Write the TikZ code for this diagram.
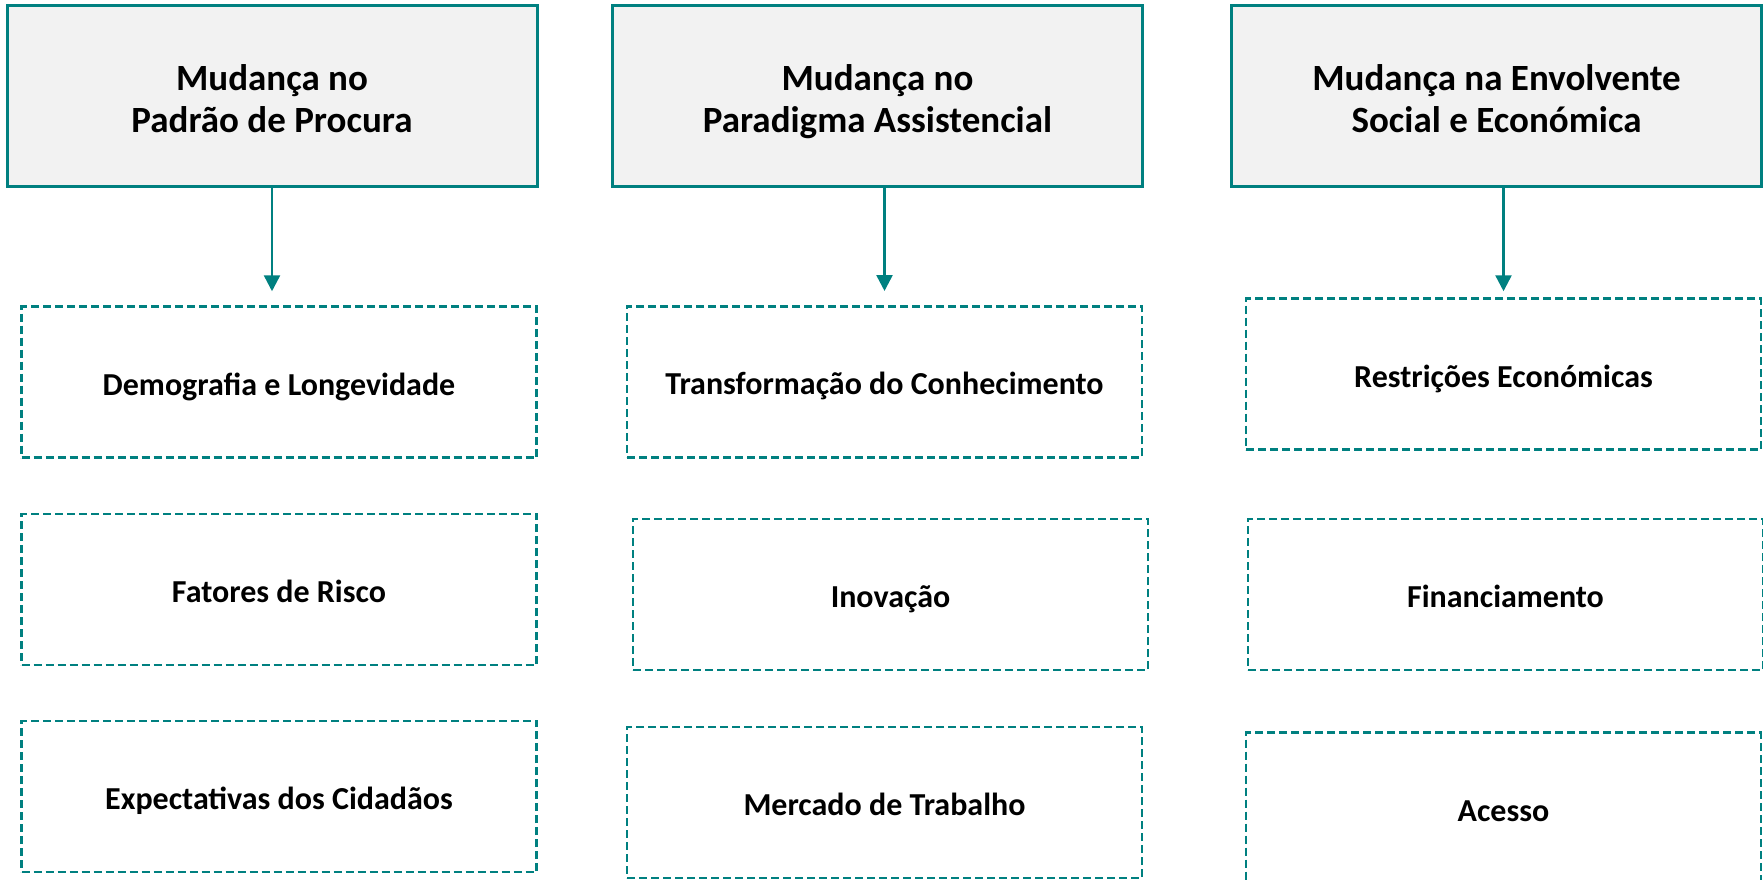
\documentclass[tikz,border=0pt]{standalone}
\usepackage{fontspec}
\setmainfont{Carlito}
\usetikzlibrary{arrows.meta}
\definecolor{tealline}{RGB}{0,128,128}
\definecolor{greyfill}{RGB}{242,242,242}

\begin{document}
\begin{tikzpicture}[x=1pt,y=-1pt,
  topbox/.style={draw=tealline,fill=greyfill,line width=3pt,minimum width=530pt,minimum height=181pt,
    align=center,inner sep=0pt,text height=76pt,text depth=3pt,font=\fontsize{37}{42}\selectfont\bfseries},
  subbox/.style={draw=tealline,line width=2.5pt,dash pattern=on 8pt off 4pt,minimum width=515pt,
    minimum height=151pt,inner sep=0pt,text height=32pt,text depth=6pt,font=\fontsize{32}{38}\selectfont\bfseries},
  link/.style={draw=tealline,line width=2.5pt,-{Triangle[length=16pt,width=16pt]}}]

\useasboundingbox (0,0) rectangle (1763,879);

% top row
\node[topbox] (p1) at (272,95.5) {Mudança no\\Padrão de Procura};
\node[topbox] (p2) at (877.5,95.5) {Mudança no\\Paradigma Assistencial};
\node[topbox] (p3) at (1496.5,95.5) {Mudança na Envolvente\\Social e Económica};

% first column
\node[subbox] (s1a) at (279,382) {Demografia e Longevidade};
\node[subbox] (s1b) at (279,589.5) {Fatores de Risco};
\node[subbox] (s1c) at (279,796.5) {Expectativas dos Cidadãos};

% second column
\node[subbox] (s2a) at (884.5,381.75) {Transformação do Conhecimento};
\node[subbox] (s2b) at (890.5,594.5) {Inovação};
\node[subbox] (s2c) at (884.5,802.5) {Mercado de Trabalho};

% third column
\node[subbox] (s3a) at (1503.5,374) {Restrições Económicas};
\node[subbox] (s3b) at (1505.5,594.5) {Financiamento};
\node[subbox] (s3c) at (1503.5,808) {Acesso};

\draw[link,shorten >=14pt] (p1.south) -- (p1.south |- s1a.north);
\draw[link,shorten >=14pt] (p2.south -| s2a.north) -- (s2a.north);
\draw[link,shorten >=6pt] (p3.south -| s3a.north) -- (s3a.north);

\end{tikzpicture}
\end{document}
